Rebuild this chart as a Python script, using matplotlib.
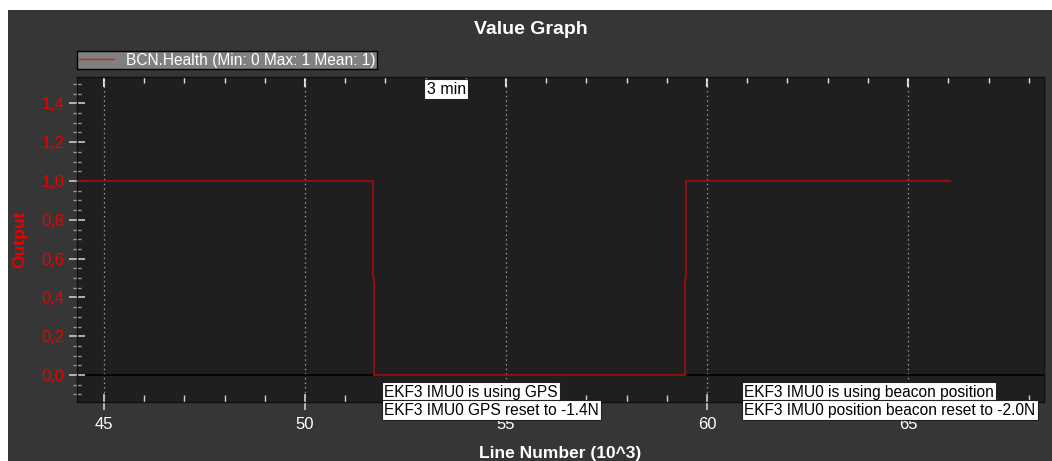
import matplotlib
matplotlib.use("Agg")
import matplotlib.pyplot as plt
from matplotlib.lines import Line2D
from matplotlib.patches import Rectangle
from matplotlib.ticker import MultipleLocator, FixedLocator, FuncFormatter

# ---- data -------------------------------------------------------------
series_name = "BCN.Health (Min: 0 Max: 1 Mean: 1)"
line_x = [44.0, 51.69, 51.69, 51.72, 51.72, 59.45, 59.45, 59.48, 59.48, 66.04]
line_y = [1.0, 1.0, 0.5, 0.5, 0.0, 0.0, 0.5, 0.5, 1.0, 1.0]

x_major = [45, 50, 55, 60, 65]
y_major = [0.0, 0.2, 0.4, 0.6, 0.8, 1.0, 1.2, 1.4]

time_mark_x = 53.51
time_mark_text = "3 min"

event_x = [51.97, 60.92]
event_lines = [
    ["EKF3 IMU0 is using GPS", "EKF3 IMU0 GPS reset to -1.4N"],
    ["EKF3 IMU0 is using beacon position", "EKF3 IMU0 position beacon reset to -2.0N"],
]

# ---- styling ------------------------------------------------------------
W, H, DPI = 1052, 461, 100
FONT = "Liberation Sans"
BG = "#363636"
AX_BG = "#1f1f1f"
LINE_RED = "#8e1111"
LABEL_RED = "#ee0000"

plt.rcParams["font.family"] = [FONT, "DejaVu Sans"]

fig = plt.figure(figsize=(W / DPI, H / DPI), dpi=DPI, facecolor="white")
fig.patches.append(Rectangle((8 / W, 0), 1 - 8 / W, (H - 10) / H,
                             transform=fig.transFigure, facecolor=BG,
                             edgecolor="none", zorder=-10))

left, right, top, bottom = 77, 1044, 77, 402
ax = fig.add_axes([left / W, 1 - bottom / H, (right - left) / W, (bottom - top) / H])
ax.set_facecolor(AX_BG)
for s in ax.spines.values():
    s.set_color("#111111")
    s.set_linewidth(1)

ax.set_xlim(44.33, 68.38)
ax.set_ylim(-0.139, 1.536)

# grid and zero line
for xv in x_major:
    ax.axvline(xv, color="#9a9a9a", lw=0.9, ls=(0, (1.2, 2.5)), zorder=1)
ax.axhline(0, color="#000000", lw=1.2, zorder=1)

ax.plot(line_x, line_y, color=LINE_RED, lw=1.4, zorder=3)

# ticks
ax.xaxis.set_major_locator(FixedLocator(x_major))
ax.xaxis.set_minor_locator(MultipleLocator(1))
ax.yaxis.set_major_locator(FixedLocator(y_major))
ax.yaxis.set_minor_locator(MultipleLocator(0.05))
ax.yaxis.set_major_formatter(FuncFormatter(lambda v, p: f"{v:.1f}".replace(".", ",")))
ax.xaxis.set_major_formatter(FuncFormatter(lambda v, p: f"{v:g}"))

ax.tick_params(axis="x", which="major", direction="inout", length=12, width=1.2,
               color="#d0d0d0", labelcolor="white", labelsize=12, pad=5)
ax.tick_params(axis="x", which="minor", direction="in", length=5, width=1,
               color="#d0d0d0")
ax.tick_params(axis="y", which="major", direction="inout", length=12, width=1.2,
               color="#c8c8c8", labelcolor=LABEL_RED, labelsize=12, pad=3)
ax.tick_params(axis="y", which="minor", direction="inout", length=6, width=1,
               color="#9a9a9a")

top_ax = ax.secondary_xaxis("top")
top_ax.xaxis.set_major_locator(FixedLocator(x_major))
top_ax.xaxis.set_minor_locator(MultipleLocator(1))
top_ax.tick_params(which="major", direction="in", length=7, width=1.5,
                   color="#e0e0e0", labeltop=False)
top_ax.tick_params(which="minor", direction="in", length=4, width=1,
                   color="#e0e0e0")
top_ax.spines["top"].set_color("#111111")

ax.set_xlabel("Line Number (10^3)", color="white", fontsize=12.5,
              fontweight="bold", labelpad=10)
ax.set_ylabel("Output", color=LABEL_RED, fontsize=12.5, fontweight="bold",
              labelpad=10)

fig.text(531 / W, 1 - 30 / H, "Value Graph", color="white", fontsize=14,
         fontweight="bold", ha="center", va="center")

# legend
handle = Line2D([], [], color="#d42222", lw=1.0)
leg = fig.legend([handle], [series_name], loc="upper left",
                 bbox_to_anchor=(77 / W, 1 - 51 / H), fontsize=11.2,
                 frameon=True, fancybox=False, borderpad=0.1,
                 handlelength=2.3, handletextpad=0.75, borderaxespad=0)
leg.get_frame().set_facecolor("#808080")
leg.get_frame().set_edgecolor("#000000")
leg.get_frame().set_alpha(1)
leg.get_frame().set_linewidth(1)
for t in leg.get_texts():
    t.set_color("white")

box = dict(boxstyle="square,pad=0.15", facecolor="white", edgecolor="#222222", lw=0.8)

ax.text(time_mark_x, 0.985, time_mark_text, transform=ax.get_xaxis_transform(),
        ha="center", va="top", fontsize=11.5, color="black", bbox=box, zorder=5)

for xv, lines in zip(event_x, event_lines):
    for i, txt in enumerate(lines):
        ax.text(xv, -0.0876 - i * 0.0935, txt, ha="left", va="center", fontsize=11.2,
                color="black", bbox=box, clip_on=False, zorder=6)

fig.savefig("out.png", dpi=DPI, facecolor=fig.get_facecolor())
